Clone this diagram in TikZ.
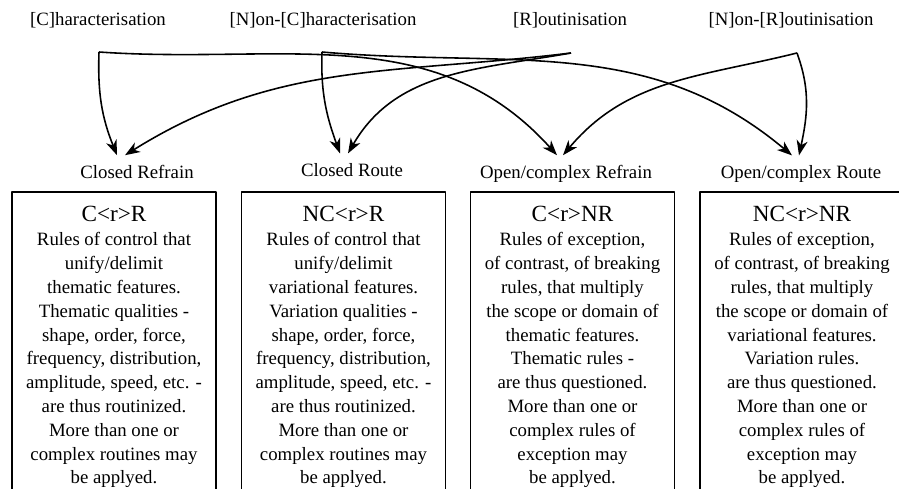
\documentclass[tikz,border=0pt]{standalone}
\usepackage{fontspec}
\setmainfont{Liberation Serif}
\usetikzlibrary{arrows.meta}

\newcommand{\bodysize}{\fontsize{10.7}{13.55}\selectfont}
\newcommand{\titlesize}{\fontsize{13.2}{15}\selectfont}

\begin{document}
\begin{tikzpicture}[x=0.02cm, y=-0.02cm, line join=round,
	>={Stealth[length=0.3cm, width=0.22cm, inset=0.09cm]},
	srclabel/.style={anchor=base, inner sep=0pt, font=\bodysize},
	tgtlabel/.style={anchor=base, inner sep=5.8pt, font=\bodysize},
	descbox/.style={draw, line width=1pt, anchor=north, inner xsep=0pt, inner ysep=8.4pt},
	conn/.style={->, line width=0.9pt}]

	\useasboundingbox (0,0) rectangle (899,489);
	\clip (0,0) rectangle (899,489);

	% ================= sources =================
	\node[srclabel] (char)    at (98,26)  {[C]haracterisation};
	\node[srclabel] (nonchar) at (323,26) {[N]on-[C]haracterisation};
	\node[srclabel] (rout)    at (570,26) {[R]outinisation};
	\node[srclabel] (nonrout) at (791,26) {[N]on-[R]outinisation};

	\coordinate (charfork)    at (99,52);
	\coordinate (noncharfork) at (322,52);
	\coordinate (routfork)    at (571,53);
	\coordinate (nonroutfork) at (797,53);

	% ================= targets =================
	\node[tgtlabel] (crefrain) at (137,179) {Closed Refrain};
	\node[tgtlabel] (croute)   at (352,177) {Closed Route};
	\node[tgtlabel] (orefrain) at (566,179) {Open/complex Refrain};
	\node[tgtlabel] (oroute)   at (801,179) {Open/complex Route};

	% ================= forks =================
	\draw[conn] (charfork) to[out=-92, in=112] ([xshift=-0.4cm]crefrain.north);
	\draw[conn] (charfork) to[out=-4, in=132] ([xshift=-0.18cm]orefrain.north);
	\draw[conn] (noncharfork) to[out=-92, in=110] ([xshift=-0.24cm]croute.north);
	\draw[conn] (noncharfork) to[out=-5, in=140] ([xshift=-0.18cm]oroute.north);
	\draw[conn] (routfork) to[out=187, in=32] ([xshift=-0.24cm]crefrain.north);
	\draw[conn] (routfork) to[out=190, in=60] ([xshift=-0.08cm]croute.north);
	\draw[conn] (nonroutfork) to[out=194, in=50] ([xshift=-0.06cm]orefrain.north);
	\draw[conn] (nonroutfork) to[out=-70, in=78] ([xshift=-0.04cm]oroute.north);

	% ================= descriptions =================
	\node[descbox] (crbox) at (114,191) {\parbox[t][6.5cm][t]{4.08cm}{\bodysize\centering
		{\titlesize C<r>R}\\
		Rules of control that\\ unify/delimit\\ thematic features.\\
		Thematic qualities -\\ shape, order, force,\\ frequency, distribution,\\
		amplitude, speed, etc. -\\ are thus routinized.\\ More than one or\\
		complex routines may\\ be applyed.}};
	\node[descbox] (crobox) at (343.5,191) {\parbox[t][6.5cm][t]{4.08cm}{\bodysize\centering
		{\titlesize NC<r>R}\\
		Rules of control that\\ unify/delimit\\ variational features.\\
		Variation qualities -\\ shape, order, force,\\ frequency, distribution,\\
		amplitude, speed, etc. -\\ are thus routinized.\\ More than one or\\
		complex routines may\\ be applyed.}};
	\node[descbox] (orbox) at (572.5,191) {\parbox[t][6.5cm][t]{4.08cm}{\bodysize\centering
		{\titlesize C<r>NR}\\
		Rules of exception,\\ of contrast, of breaking\\ rules, that multiply\\
		the scope or domain of\\ thematic features.\\ Thematic rules -\\
		are thus questioned.\\ More than one or\\ complex rules of\\
		exception may\\ be applyed.}};
	\node[descbox] (orobox) at (802,191) {\parbox[t][6.5cm][t]{4.08cm}{\bodysize\centering
		{\titlesize NC<r>NR}\\
		Rules of exception,\\ of contrast, of breaking\\ rules, that multiply\\
		the scope or domain of\\ variational features.\\ Variation rules.\\
		are thus questioned.\\ More than one or\\ complex rules of\\
		exception may\\ be applyed.}};

\end{tikzpicture}
\end{document}
